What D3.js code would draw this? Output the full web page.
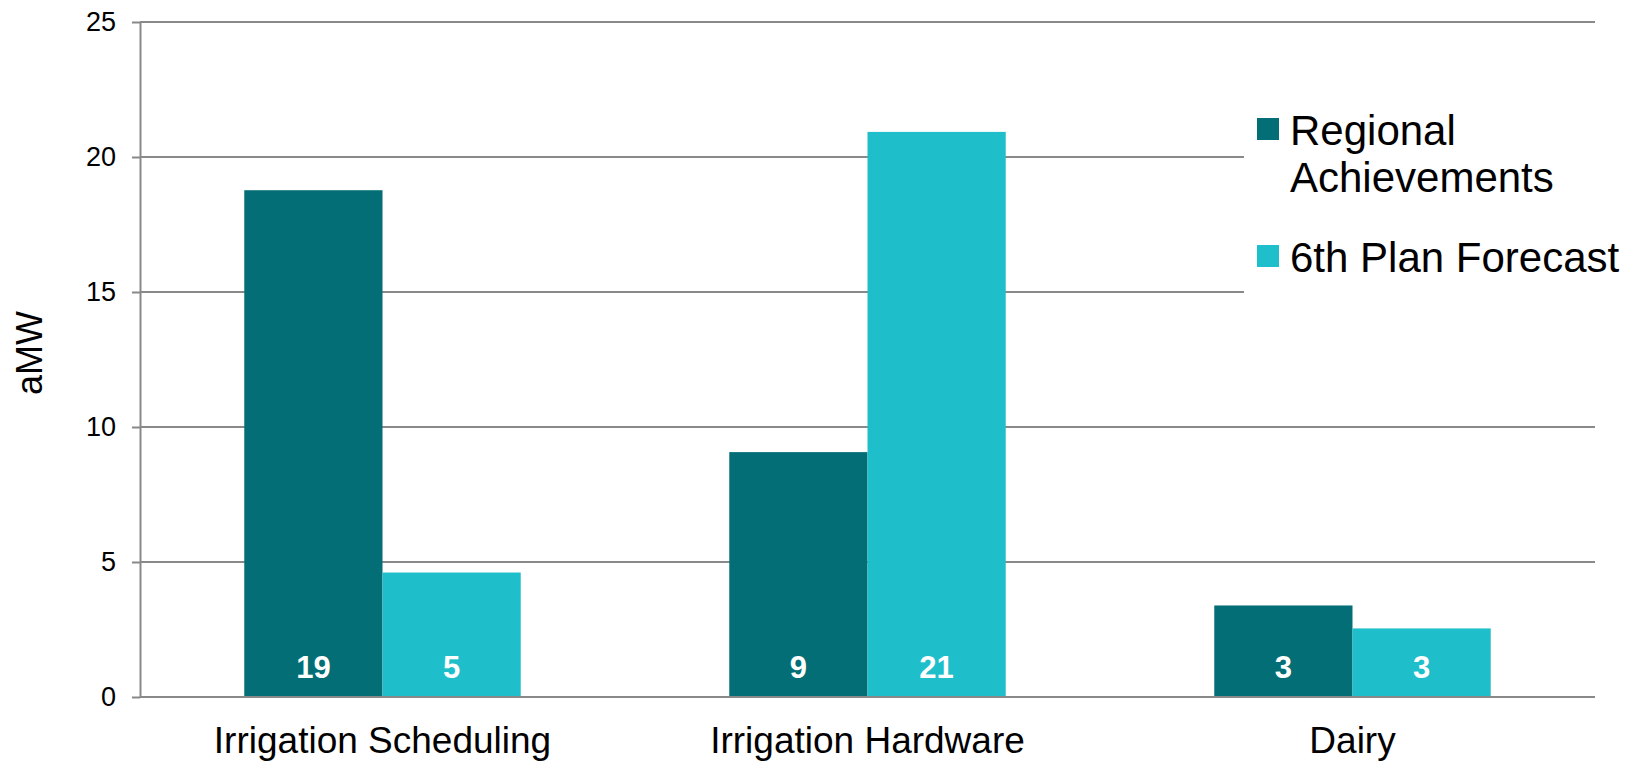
<!DOCTYPE html>
<html>
<head>
<meta charset="utf-8">
<script src="https://cdn.jsdelivr.net/npm/d3@7"></script>
<style>
  body { margin: 0; background: #fff; }
  svg { display: block; font-family: "Liberation Sans", Arial, sans-serif; }
  .axis path, .axis line { stroke: #898989; stroke-width: 2; }
  .axis text { fill: #000; font-size: 27px; }
  .grid line { stroke: #898989; stroke-width: 2; }
</style>
</head>
<body>
<div id="content"></div>
<script>
var categories = ["Irrigation Scheduling", "Irrigation Hardware", "Dairy"];
var series = ["Regional Achievements", "6th Plan Forecast"];
var regional = [18.77, 9.07, 3.39];
var forecast = [4.61, 20.93, 2.54];
var regionalLabels = ["19", "9", "3"];
var forecastLabels = ["5", "21", "3"];
var yTicks = [0, 5, 10, 15, 20, 25];
var colors = ["#036e75", "#1ebeca"];

// margin conventions again
var margin = {top: 22, right: 38, bottom: 66, left: 140},
  width = 1633 - margin.left - margin.right,
  height = 763 - margin.top - margin.bottom;

var data = categories.map(function (c, i) {
  return {
    cat: c,
    values: [
      {key: series[0], value: regional[i], label: regionalLabels[i]},
      {key: series[1], value: forecast[i], label: forecastLabels[i]}
    ]
  };
});

var x0 = d3.scaleBand().domain(categories).range([0, width])
  .paddingInner(0.43).paddingOuter(0.215);
var x1 = d3.scaleBand().domain(series).range([0, x0.bandwidth()]);
var y = d3.scaleLinear().domain([0, 25]).range([height, 0]);
var color = d3.scaleOrdinal().domain(series).range(colors);

var svg = d3.select('#content').append('svg')
  .attr('width', 1633).attr('height', 763)
  .append('g')
  .attr('transform', 'translate(' + margin.left + ',' + margin.top + ')');

// horizontal gridlines
svg.append('g').attr('class', 'grid')
  .selectAll('line').data(yTicks).enter()
  .append('line')
  .attr('x1', 0).attr('x2', width)
  .attr('y1', function (d) { return y(d); })
  .attr('y2', function (d) { return y(d); });

// y axis, ticks poke out to the left
svg.append('g').attr('class', 'y axis')
  .call(d3.axisLeft(y).tickValues(yTicks).tickSize(8).tickSizeOuter(0).tickPadding(16));

svg.append('text')
  .attr('transform', 'translate(' + (42 - margin.left) + ',' + (353 - margin.top) + ') rotate(-90)')
  .attr('text-anchor', 'middle')
  .style('font-size', '36px')
  .text('aMW');

// bars
var groups = svg.selectAll('.group').data(data).enter()
  .append('g')
  .attr('class', 'group')
  .attr('transform', function (d) { return 'translate(' + x0(d.cat) + ',0)'; });

groups.selectAll('rect').data(function (d) { return d.values; }).enter()
  .append('rect')
  .attr('x', function (d) { return x1(d.key); })
  .attr('y', function (d) { return y(d.value); })
  .attr('width', x1.bandwidth())
  .attr('height', function (d) { return height - y(d.value); })
  .attr('fill', function (d) { return color(d.key); });

// value labels sit at the bottom of each bar
groups.selectAll('.val').data(function (d) { return d.values; }).enter()
  .append('text')
  .attr('class', 'val')
  .attr('x', function (d) { return x1(d.key) + x1.bandwidth() / 2; })
  .attr('y', height - 19)
  .attr('text-anchor', 'middle')
  .style('font-size', '31px')
  .style('font-weight', 'bold')
  .style('fill', '#fff')
  .text(function (d) { return d.label; });

// x axis line + category names
svg.append('line')
  .attr('x1', 0).attr('x2', width)
  .attr('y1', height).attr('y2', height)
  .style('stroke', '#898989').style('stroke-width', 2);

svg.selectAll('.cat').data(categories).enter()
  .append('text')
  .attr('class', 'cat')
  .attr('x', function (d) { return x0(d) + x0.bandwidth() / 2; })
  .attr('y', height + 56)
  .attr('text-anchor', 'middle')
  .style('font-size', '37px')
  .text(function (d) { return d; });

// legend, white box hides the gridlines behind it
var legend = svg.append('g')
  .attr('transform', 'translate(' + (1244 - margin.left) + ',' + (96 - margin.top) + ')');

legend.append('rect')
  .attr('width', 1633 - 1244).attr('height', 200)
  .attr('fill', '#fff');

var legendLines = [["Regional", "Achievements"], ["6th Plan Forecast"]];
var legendTop = [22, 149];

legend.selectAll('.key').data(series).enter()
  .append('rect')
  .attr('class', 'key')
  .attr('x', 13)
  .attr('y', function (d, i) { return legendTop[i]; })
  .attr('width', 22).attr('height', 22)
  .attr('fill', function (d) { return color(d); });

legend.selectAll('.ltext').data(series).enter()
  .append('text')
  .attr('class', 'ltext')
  .attr('x', 46)
  .attr('y', function (d, i) { return legendTop[i] + 27; })
  .style('font-size', '42px')
  .each(function (d, i) {
    d3.select(this).selectAll('tspan').data(legendLines[i]).enter()
      .append('tspan')
      .attr('x', 46)
      .attr('dy', function (t, j) { return j == 0 ? 0 : 46.7; })
      .text(function (t) { return t; });
  });
</script>
</body>
</html>
